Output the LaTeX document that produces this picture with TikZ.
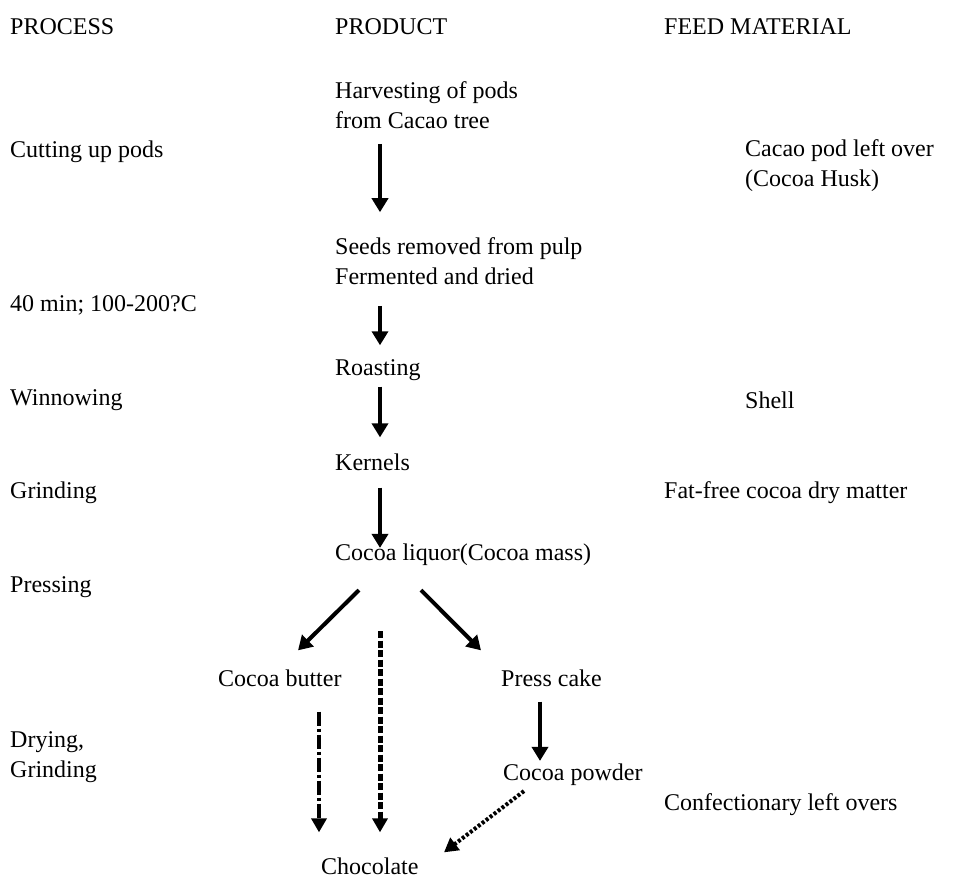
\documentclass[tikz,border=0pt]{standalone}
\usepackage{fontspec}
\setmainfont{Liberation Serif}
\usetikzlibrary{arrows.meta}

\tikzset{
  txt/.style={anchor=west, inner sep=0pt, font=\fontsize{24}{30}\selectfont},
  twoline/.style={txt, align=left},
  arr/.style={line width=4pt, -{Triangle[length=14pt,width=16pt]}},
  dasharr/.style={line width=5pt, dash pattern=on 7pt off 2.5pt, -{Triangle[length=14pt,width=15pt]}},
  dotdasharr/.style={line width=3.5pt, dash pattern=on 14pt off 3pt on 3pt off 3pt, -{Triangle[length=14pt,width=15pt]}},
  dotarr/.style={line width=4pt, dash pattern=on 3pt off 2pt, -{Triangle[length=14pt,width=15pt]}}
}

\begin{document}
\begin{tikzpicture}[x=1pt,y=-1pt]
    \useasboundingbox (0,0) rectangle (962,878);

    % column heads
    \node[txt] (process) at (10,27) {PROCESS};
    \node[txt] (product) at (335,27) {PRODUCT};
    \node[txt] (feed) at (664,27) {FEED MATERIAL};

    % product column
    \node[twoline] (harvest) at (335,105) {Harvesting of pods\\from Cacao tree};
    \node[twoline] (seeds) at (335,261) {Seeds removed from pulp\\Fermented and dried};
    \node[txt] (roasting) at (335,370) {Roasting};
    \node[txt] (kernels) at (335,462) {Kernels};
    \node[txt] (liquor) at (335,555) {Cocoa liquor(Cocoa mass)};
    \node[txt] (butter) at (218,678) {Cocoa butter};
    \node[txt] (presscake) at (501,678) {Press cake};
    \node[txt] (powder) at (503,775) {Cocoa powder};
    \node[txt] (chocolate) at (321,866) {Chocolate};

    % process column
    \node[txt] (cutting) at (10,152) {Cutting up pods};
    \node[txt] (roastproc) at (10,305) {40 min; 100-200?C};
    \node[txt] (winnow) at (10,400) {Winnowing};
    \node[txt] (grindproc) at (10,493) {Grinding};
    \node[txt] (pressing) at (10,587) {Pressing};
    \node[twoline] (drying) at (10,757) {Drying,\\Grinding};

    % feed material column
    \node[twoline] (husk) at (745,166) {Cacao pod left over\\(Cocoa Husk)};
    \node[txt] (shell) at (745,400) {Shell};
    \node[txt] (fatfree) at (664,493) {Fat-free cocoa dry matter};
    \node[txt] (confect) at (664,805) {Confectionary left overs};

    \coordinate (spine) at (380,0);

    \draw[arr, shorten <=15pt, shorten >=25pt] (harvest.south -| spine) -- (seeds.north -| spine);
    \draw[arr, shorten <=21pt, shorten >=14pt] (seeds.south -| spine) -- (roasting.north -| spine);
    \draw[arr, shorten <=6pt, shorten >=16pt] (roasting.south -| spine) -- (kernels.north -| spine);
    \draw[arr, shorten <=17pt, shorten >=-4pt] (kernels.south -| spine) -- (liquor.north -| spine);
    \draw[arr] ([xshift=24pt,yshift=-24pt]liquor.south west) -- ([xshift=80pt,yshift=19pt]butter.north west);
    \draw[arr] ([xshift=86pt,yshift=-24pt]liquor.south west) -- ([xshift=-20pt,yshift=19pt]presscake.north west);
    \draw[arr] ([xshift=39pt,yshift=-15pt]presscake.south west) -- ([xshift=37pt,yshift=3pt]powder.north west);
    \draw[dasharr, shorten <=65pt, shorten >=25pt] (liquor.south -| spine) -- (chocolate.north -| spine);
    \draw[dotdasharr] ([xshift=101pt,yshift=-25pt]butter.south west) -- ([xshift=-2pt,yshift=25pt]chocolate.north west);
    \draw[dotarr] ([xshift=21pt,yshift=-5pt]powder.south west) -- ([xshift=123pt,yshift=5pt]chocolate.north west);
\end{tikzpicture}
\end{document}
